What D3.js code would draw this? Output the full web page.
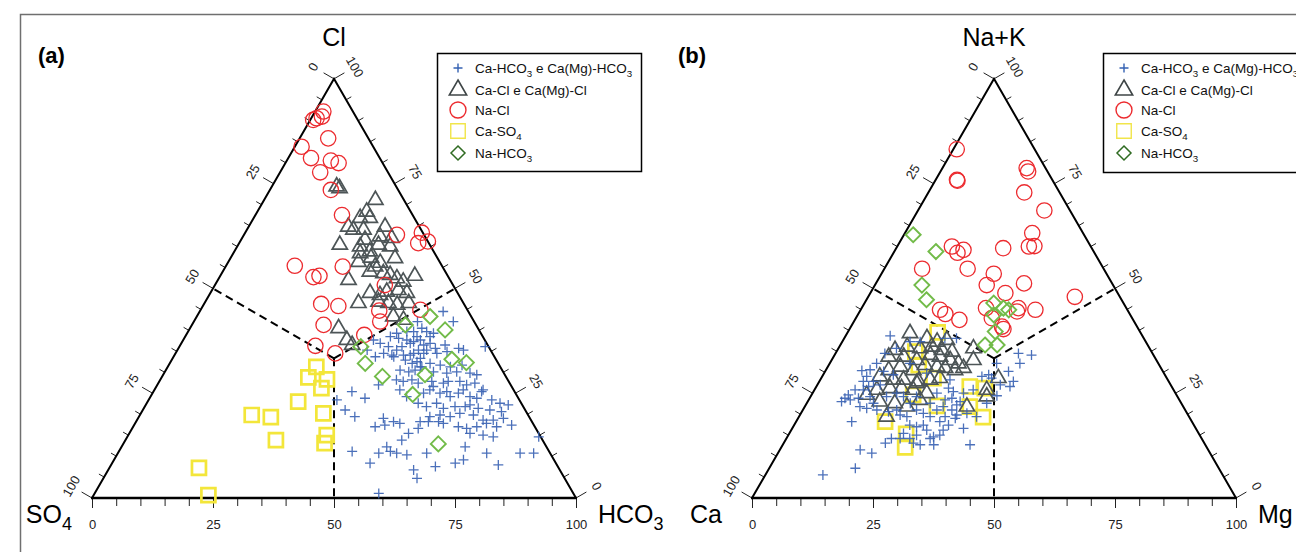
<!DOCTYPE html>
<html>
<head>
<meta charset="utf-8">
<script src="https://cdn.jsdelivr.net/npm/d3@7/dist/d3.min.js"></script>
<style>
  html, body { margin: 0; padding: 0; background: #fff; }
  svg { display: block; }
</style>
</head>
<body>
<svg id="chart" width="1296" height="552"></svg>
<script>
// ---------------------------------------------------------------
// Hydrochemical facies: anion (a) and cation (b) ternary diagrams.
// Each point is [top component %, right component %]; the third
// (left) component is 100 minus the other two.
// ---------------------------------------------------------------

const categories = [
  "Ca-HCO_3 e Ca(Mg)-HCO_3",
  "Ca-Cl e Ca(Mg)-Cl",
  "Na-Cl",
  "Ca-SO_4",
  "Na-HCO_3"
];

const tickValues = d3.range(0, 101, 5);
const tickLabels = [0, 25, 50, 75, 100];

// ---- (a) anions: [Cl, HCO3] ----
const anionCaHCO3 = [
  [44.5,50.3],[42.1,53.6],[42.1,46.2],[39.7,45.2],[39.7,46.6],[40.5,47.9],[39.7,49.3],[38.5,50.6],[38.5,42.4],[38.1,44.3],
  [37.7,46.2],[36.9,41.1],[36.1,43.2],[36.1,46.0],[36.9,47.3],[37.7,49.0],[36.9,51.4],[35.7,53.1],[36.5,54.7],[34.5,43.0],
  [34.1,44.9],[33.7,45.5],[34.1,47.3],[34.5,49.2],[35.3,49.8],[34.5,51.3],[35.3,51.5],[34.5,54.0],[34.9,55.9],[35.7,57.9],
  [35.3,59.1],[36.1,63.2],[33.7,41.7],[32.9,48.3],[32.1,50.1],[32.5,50.9],[31.3,52.2],[32.1,53.8],[31.7,56.1],[31.3,58.4],
  [31.7,60.6],[30.5,48.4],[30.1,50.4],[30.5,51.5],[31.3,52.5],[30.1,55.5],[29.8,58.4],[30.1,60.3],[29.8,63.2],[29.4,64.8],
  [27.0,45.7],[28.2,48.8],[27.8,50.4],[28.2,52.0],[27.4,53.7],[27.8,56.3],[26.6,57.2],[27.4,58.9],[27.8,59.7],[27.8,62.1],
  [27.0,63.9],[27.4,65.4],[25.8,67.9],[25.8,50.7],[24.2,52.9],[25.0,56.0],[25.8,56.9],[25.0,59.4],[25.4,60.6],[24.2,61.9],
  [25.0,63.2],[25.8,63.8],[24.2,66.0],[23.8,67.6],[25.4,67.8],[23.4,70.9],[22.6,73.0],[22.2,74.9],[22.6,56.1],[21.8,58.2],
  [22.6,59.9],[21.4,61.9],[21.8,64.1],[21.8,66.2],[22.2,67.0],[21.4,69.1],[21.0,71.7],[20.6,74.3],[19.0,75.5],[17.4,78.0],
  [19.4,60.1],[19.8,62.0],[19.4,64.3],[20.2,65.9],[19.8,68.9],[18.6,71.5],[18.6,73.6],[18.2,58.7],[18.2,60.4],[18.2,62.5],
  [17.8,63.7],[17.0,67.2],[16.6,69.1],[17.0,71.0],[17.8,72.6],[17.0,75.1],[19.0,50.7],[18.2,53.2],[17.8,54.7],[17.0,50.0],
  [15.4,57.7],[16.6,59.1],[15.4,70.4],[15.0,73.3],[14.6,75.6],[13.8,57.1],[14.6,85.0],[12.2,54.8],[11.1,56.1],[10.7,57.6],
  [10.3,59.9],[10.7,63.8],[12.2,71.0],[10.7,76.2],[10.7,83.1],[10.7,85.9],[11.1,48.2],[10.7,53.9],[8.3,53.3],[6.7,63.1],
  [7.5,67.2],[8.3,70.9],[9.1,72.2],[7.9,80.0],[4.7,64.8],[1.1,58.7],[23.4,38.9],[21.0,41.8],[19.4,44.6],[23.8,44.5],
  [25.4,41.0],[17.4,51.8],[37.7,39.3],[35.3,39.2],[39.3,43.3],[38.5,47.9],[39.3,50.9],[37.3,47.8],[36.5,50.3],[35.3,45.3],
  [34.1,48.7],[33.3,51.2]
];
const anionCaCl = [
  [74.3,13.4],[73.9,14.2],[71.1,23.0],[68.3,22.6],[66.8,22.0],[66.8,24.0],[64.7,20.6],[64.0,22.0],[64.0,24.1],[64.7,28.2],
  [61.6,25.6],[62.4,28.3],[62.0,30.9],[60.4,21.0],[60.0,25.4],[60.4,29.0],[58.4,26.2],[58.8,28.0],[60.0,31.6],[57.2,34.0],
  [56.1,31.5],[55.2,30.9],[54.0,30.4],[53.6,33.4],[53.2,35.0],[52.0,27.0],[52.4,36.8],[53.0,40.2],[51.6,38.5],[48.9,33.0],
  [48.4,35.3],[49.2,36.3],[49.6,38.5],[48.9,40.6],[46.5,31.8],[46.8,35.8],[46.5,38.0],[46.1,40.0],[46.5,42.2],[40.5,30.7],
  [37.7,33.8],[36.5,35.5],[43.3,40.6],[42.5,43.1],[57.3,29.0],[56.3,26.9]
];
const anionNaCl = [
  [92.2,1.7],[90.6,1.1],[90.2,0.6],[91.0,2.0],[85.8,5.9],[83.8,1.4],[81.1,4.7],[80.5,9.1],[79.9,11.0],[77.7,8.3],
  [73.5,12.6],[67.5,17.9],[62.8,31.6],[63.3,36.5],[60.8,37.0],[61.2,38.8],[55.4,14.2],[55.2,24.2],[52.7,19.4],[53.0,20.5],
  [50.8,35.1],[46.3,24.2],[45.8,28.0],[44.7,37.0],[42.1,38.5],[44.9,45.4],[41.3,27.2],[38.9,36.8],[36.3,28.0],[34.5,33.0]
];
const anionCaSO4 = [
  [31.3,30.7],[28.8,30.3],[28.3,34.4],[26.2,34.3],[23.0,31.1],[19.8,23.1],[19.3,27.3],[20.2,37.7],[13.8,31.1],[15.0,41.0],
  [13.1,41.5],[7.2,18.5],[0.7,23.7]
];
const anionNaHCO3 = [
  [43.3,48.2],[40.1,52.9],[41.3,44.1],[36.1,37.5],[32.1,40.4],[29.0,45.5],[29.4,54.1],[33.1,57.8],[32.3,61.2],[24.7,53.9],
  [12.9,65.1]
];

// ---- (b) cations: [Na+K, Mg] ----
const cationCaHCO3 = [
  [38.7,9.2],[37.3,14.0],[37.3,16.1],[38.1,20.8],[38.1,23.2],[34.5,10.2],[35.7,12.0],[30.6,9.1],[30.4,7.5],[30.2,12.1],
  [27.8,11.2],[26.6,10.8],[27.0,13.0],[29.4,14.5],[25.8,8.4],[24.6,7.6],[23.8,7.3],[23.0,7.0],[23.4,8.6],[23.8,10.1],
  [25.8,10.1],[24.2,12.3],[21.8,11.4],[21.4,13.0],[22.6,13.8],[21.0,15.3],[20.6,17.9],[21.0,19.4],[19.8,20.7],[19.4,22.3],
  [21.0,23.5],[20.2,25.3],[19.4,27.1],[21.0,27.7],[21.8,28.6],[19.4,30.2],[21.0,30.8],[19.8,32.4],[25.4,28.9],[26.2,27.5],
  [28.2,26.8],[25.0,31.2],[25.8,32.8],[29.4,34.2],[29.0,33.0],[32.1,34.5],[27.0,37.8],[30.2,37.9],[26.6,40.0],[27.8,40.1],
  [32.1,39.3],[34.1,40.7],[34.5,37.8],[23.4,28.2],[23.0,31.5],[22.2,31.2],[20.2,34.3],[16.6,35.4],[12.7,38.7],[19.4,36.7],
  [17.4,26.7],[17.0,25.5],[17.4,23.9],[15.4,23.6],[14.2,23.5],[14.2,25.5],[15.0,26.5],[12.7,28.4],[14.2,29.7],[14.6,30.2],
  [15.0,31.3],[16.2,31.4],[16.2,28.0],[12.7,31.2],[13.1,26.8],[14.2,21.7],[13.1,21.0],[10.7,19.4],[11.5,16.6],[7.1,17.8],
  [18.2,11.5],[27.8,9.1],[29.0,9.2],[32.1,9.7],[32.1,16.6],[29.8,21.2],[24.2,19.2],[25.0,17.4],[24.2,15.7],[22.6,21.4],
  [24.2,21.9],[25.0,25.7],[22.6,25.5],[23.8,29.4],[22.6,37.2],[28.6,35.2],[24.4,38.4],[18.2,29.7],[17.4,31.9],[19.0,32.5],
  [5.5,11.9]
];
const cationCaCl = [
  [39.3,13.0],[38.1,17.1],[37.3,19.6],[37.7,21.4],[35.3,11.9],[36.1,14.0],[35.7,16.9],[36.1,19.1],[35.3,21.6],[34.9,23.9],
  [33.7,11.4],[33.7,14.5],[32.9,17.6],[34.1,19.8],[33.7,22.0],[32.9,24.5],[32.1,26.6],[35.7,27.9],[32.9,29.3],[30.5,13.0],
  [31.3,15.0],[30.5,18.1],[31.7,19.9],[31.3,22.6],[31.0,24.4],[30.5,26.7],[31.0,28.2],[29.0,11.9],[28.2,15.1],[28.2,17.2],
  [27.8,20.5],[28.2,22.7],[28.6,24.5],[28.6,36.6],[24.6,11.4],[25.8,12.9],[26.2,15.4],[26.2,17.8],[25.8,20.4],[27.4,20.3],
  [25.0,23.6],[25.8,35.6],[23.0,14.9],[22.6,18.2],[21.8,21.1],[23.4,23.0],[21.8,33.5],[19.4,18.1],[24.2,36.4]
];
const cationNaCl = [
  [83.2,0.7],[75.9,4.4],[75.7,4.6],[78.7,17.4],[77.9,18.1],[72.9,19.8],[68.6,26.1],[63.2,26.3],[60.0,27.2],[60.1,28.3],
  [60.0,11.3],[58.5,13.2],[59.2,14.1],[59.6,22.1],[54.7,7.8],[54.7,17.2],[53.5,23.2],[50.8,23.1],[51.2,30.6],[48.9,27.9],
  [48.0,42.7],[44.9,16.4],[43.9,18.0],[42.5,21.6],[45.3,25.7],[45.3,32.4],[44.5,32.5],[44.9,36.1],[42.9,28.1],[40.9,31.2],
  [40.3,31.8]
];
const cationCaSO4 = [
  [39.5,18.6],[34.9,16.3],[31.7,18.6],[28.6,23.2],[26.6,31.7],[26.2,35.0],[22.0,27.2],[21.8,34.1],[19.3,38.1],[18.2,18.4],
  [15.3,24.2],[12.1,25.6],[24.6,21.0]
];
const cationNaHCO3 = [
  [62.8,1.9],[58.8,8.6],[50.8,9.7],[47.3,12.4],[46.5,26.7],[44.9,30.6],[45.3,29.3],[39.7,30.4],[36.5,29.9],[36.5,32.4],
  [43.7,28.1]
];

// ---------------------------------------------------------------
// Layout and styling
// ---------------------------------------------------------------
const W = 1296, HGT = 552;
const SIDE = 484;
const TRI_H = SIDE * Math.sqrt(3) / 2;
const BASE_Y = 498;

const panels = [
  {
    tag: "(a)", tagX: 38,
    x0: 92,
    top: "Cl", left: "SO_4", right: "HCO_3",
    leftLabelEnd: 72, rightLabelStart: 598,
    series: [anionCaHCO3, anionCaCl, anionNaCl, anionCaSO4, anionNaHCO3],
    legend: { x: 437, y: 53, w: 204, h: 118 }
  },
  {
    tag: "(b)", tagX: 678,
    x0: 752,
    top: "Na+K", left: "Ca", right: "Mg",
    leftLabelEnd: 722, rightLabelStart: 1258,
    series: [cationCaHCO3, cationCaCl, cationNaCl, cationCaSO4, cationNaHCO3],
    legend: { x: 1103, y: 53, w: 230, h: 119 }
  }
];

// marker styles in category order; plotted markers and legend keys
const styles = [
  { shape: "plus",     stroke: "#3761b3", width: 1.3, opacity: 0.9, size: 5,
    legendStroke: "#3461b3", legendWidth: 1.4 },
  { shape: "triangle", stroke: "#4d5557", width: 1.7, opacity: 1, size: 100,
    legendStroke: "#3f4647", legendWidth: 1.6 },
  { shape: "circle",   stroke: "#ec2b2f", width: 1.3, opacity: 1, size: 185,
    legendStroke: "#ec2b2f", legendWidth: 1.4 },
  { shape: "square",   stroke: "#f3e63a", width: 2.7, opacity: 1, size: 196,
    legendStroke: "#f1e54a", legendWidth: 1.4 },
  { shape: "diamond",  stroke: "#72bb49", width: 1.9, opacity: 1, size: 7.5,
    legendStroke: "#2f6b22", legendWidth: 1.5 }
];
// draw order: squares, triangles, crosses, circles, diamonds
const drawOrder = [3, 1, 0, 2, 4];

const TICK_FONT = "'Liberation Sans', Arial, sans-serif";
const LABEL_FONT = "'Liberation Sans', Arial, sans-serif";

function markerPath(shape, size) {
  if (shape === "plus") {
    const s = size;
    return `M${-s},0H${s}M0,${-s}V${s}`;
  }
  if (shape === "diamond") {
    const s = size;
    return `M0,${-s}L${s},0L0,${s}L${-s},0Z`;
  }
  const type = shape === "triangle" ? d3.symbolTriangle
             : shape === "square" ? d3.symbolSquare
             : d3.symbolCircle;
  return d3.symbol().type(type).size(size)();
}

// text with "_d" marking a subscript digit
function richText(sel, str, fontSize) {
  const parts = str.split(/_(\d)/);
  const shift = fontSize * 0.28;
  let lowered = false;
  parts.forEach((p, i) => {
    if (!p) return;
    const isSub = i % 2 === 1;
    const t = sel.append("tspan").text(p);
    if (isSub) {
      t.attr("font-size", fontSize * 0.72).attr("dy", shift);
      lowered = true;
    } else if (lowered) {
      t.attr("dy", -shift);
      lowered = false;
    }
  });
}

const svg = d3.select("#chart").attr("width", W).attr("height", HGT);
svg.append("rect").attr("width", W).attr("height", HGT).attr("fill", "#fff");

// outer frame
svg.append("rect")
  .attr("x", 20.5).attr("y", 14.5)
  .attr("width", W + 20).attr("height", HGT + 20)
  .attr("fill", "none").attr("stroke", "#6f6f6f").attr("stroke-width", 1.5);

panels.forEach(p => {
  const g = svg.append("g");
  const x = d3.scaleLinear().domain([0, 100]).range([p.x0, p.x0 + SIDE]);
  const y = d3.scaleLinear().domain([0, 100]).range([BASE_Y, BASE_Y - TRI_H]);

  // ternary -> screen
  const px = (t, r) => x(r + t / 2);
  const py = t => y(t);

  const apex = [px(100, 0), py(100)];
  const bl = [px(0, 0), py(0)];
  const br = [px(0, 100), py(0)];

  // classification lines from centroid to side midpoints
  const c = [px(100 / 3, 100 / 3), py(100 / 3)];
  const mids = [[px(50, 0), py(50)], [px(50, 50), py(50)], [px(0, 50), py(0)]];
  mids.forEach(m => {
    g.append("line")
      .attr("x1", c[0]).attr("y1", c[1]).attr("x2", m[0]).attr("y2", m[1])
      .attr("stroke", "#000").attr("stroke-width", 2)
      .attr("stroke-dasharray", "8,5");
  });

  // bottom axis via d3.axisBottom
  const axis = d3.axisBottom(x)
    .tickValues(tickValues)
    .tickSize(8)
    .tickPadding(14)
    .tickFormat(d => tickLabels.includes(d) ? d : "");
  const ax = g.append("g").attr("transform", `translate(0,${BASE_Y})`).call(axis);
  ax.select(".domain").remove();
  ax.selectAll(".tick line").attr("stroke", "#222").attr("stroke-width", 1)
    .attr("y2", d => tickLabels.includes(d) ? 10 : 8);
  ax.selectAll(".tick text")
    .attr("font-family", TICK_FONT).attr("font-size", 13).attr("fill", "#222");

  // side ticks (perpendicular, pointing outward)
  const cos30 = Math.cos(Math.PI / 6), sin30 = 0.5;
  tickValues.forEach(v => {
    const major = tickLabels.includes(v);
    const len = major ? 12 : 6;
    // left axis: 0 at apex, 100 at bottom-left
    const lt = 100 - v;
    const lx = px(lt, 0), ly = py(lt);
    g.append("line")
      .attr("x1", lx).attr("y1", ly)
      .attr("x2", lx - cos30 * len).attr("y2", ly - sin30 * len)
      .attr("stroke", "#222").attr("stroke-width", 1);
    // right axis: 100 at apex, 0 at bottom-right
    const rx = px(v, 100 - v), ry = py(v);
    g.append("line")
      .attr("x1", rx).attr("y1", ry)
      .attr("x2", rx + cos30 * len).attr("y2", ry - sin30 * len)
      .attr("stroke", "#222").attr("stroke-width", 1);
    if (major) {
      const d = 24;
      g.append("text")
        .attr("transform", `translate(${lx - cos30 * d},${ly - sin30 * d}) rotate(-60)`)
        .attr("text-anchor", "middle").attr("dy", "0.35em")
        .attr("font-family", TICK_FONT).attr("font-size", 13).attr("fill", "#222")
        .text(v);
      g.append("text")
        .attr("transform", `translate(${rx + cos30 * d},${ry - sin30 * d}) rotate(60)`)
        .attr("text-anchor", "middle").attr("dy", "0.35em")
        .attr("font-family", TICK_FONT).attr("font-size", 13).attr("fill", "#222")
        .text(v);
    }
  });

  // triangle edges
  g.append("path")
    .attr("d", `M${bl[0]},${bl[1]}L${apex[0]},${apex[1]}L${br[0]},${br[1]}`)
    .attr("fill", "none").attr("stroke", "#000").attr("stroke-width", 2)
    .attr("stroke-linejoin", "miter");
  g.append("line")
    .attr("x1", bl[0] - 1).attr("y1", bl[1]).attr("x2", br[0] + 1).attr("y2", br[1])
    .attr("stroke", "#000").attr("stroke-width", 2.6);

  // data markers
  drawOrder.forEach(ci => {
    const st = styles[ci];
    const d = markerPath(st.shape, st.size);
    g.append("g").selectAll("path")
      .data(p.series[ci])
      .join("path")
      .attr("d", d)
      .attr("transform", v => `translate(${px(v[0], v[1])},${py(v[0])})`)
      .attr("fill", "none")
      .attr("stroke", st.stroke)
      .attr("stroke-width", st.width)
      .attr("stroke-opacity", st.opacity);
  });

  // vertex labels
  g.append("text")
    .attr("x", apex[0]).attr("y", 46)
    .attr("text-anchor", "middle")
    .attr("font-family", LABEL_FONT).attr("font-size", 25).attr("fill", "#000")
    .text(p.top);
  richText(
    g.append("text").attr("x", p.leftLabelEnd).attr("y", 523)
      .attr("text-anchor", "end")
      .attr("font-family", LABEL_FONT).attr("font-size", 25).attr("fill", "#000"),
    p.left, 25);
  richText(
    g.append("text").attr("x", p.rightLabelStart).attr("y", 523)
      .attr("font-family", LABEL_FONT).attr("font-size", 25).attr("fill", "#000"),
    p.right, 25);

  // panel tag
  g.append("text")
    .attr("x", p.tagX).attr("y", 63)
    .attr("font-family", LABEL_FONT).attr("font-size", 22).attr("font-weight", "bold")
    .text(p.tag);

  // legend
  const L = p.legend;
  const lg = g.append("g");
  lg.append("rect")
    .attr("x", L.x + 0.5).attr("y", L.y + 0.5).attr("width", L.w).attr("height", L.h)
    .attr("fill", "#fff").attr("stroke", "#000").attr("stroke-width", 1.5);
  const rowY = [68, 90, 110, 131, 153];
  categories.forEach((name, i) => {
    const st = styles[i];
    const sx = L.x + 21, sy = rowY[i];
    const legendSize = st.shape === "plus" ? 4.5
      : st.shape === "diamond" ? 7
      : st.shape === "triangle" ? 130
      : st.shape === "circle" ? 200
      : 210;
    lg.append("path")
      .attr("d", markerPath(st.shape, legendSize))
      .attr("transform", `translate(${sx},${sy})`)
      .attr("fill", "none")
      .attr("stroke", st.legendStroke)
      .attr("stroke-width", st.legendWidth);
    richText(
      lg.append("text").attr("x", L.x + 38).attr("y", sy + 5)
        .attr("font-family", LABEL_FONT).attr("font-size", 13.5).attr("fill", "#111"),
      name, 13.5);
  });
});
</script>
</body>
</html>
